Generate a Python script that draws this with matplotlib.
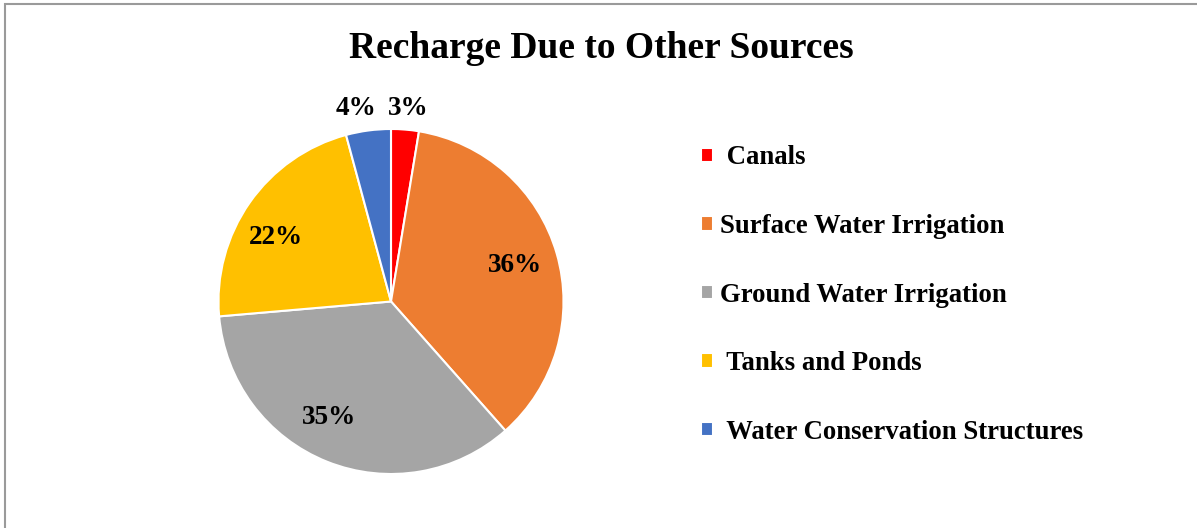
import numpy as np
import matplotlib
matplotlib.use('Agg')
import matplotlib.pyplot as plt
from matplotlib.patches import Rectangle

plt.rcParams['font.family'] = ['Liberation Serif', 'DejaVu Serif']
plt.rcParams['font.weight'] = 'bold'

# share of recharge from each source (%)
sources = [' Canals', 'Surface Water Irrigation', 'Ground Water Irrigation',
           ' Tanks and Ponds', ' Water Conservation Structures']
shares = [2.6, 35.9, 35.2, 22.2, 4.2]
colors = ['#FF0000', '#ED7D31', '#A5A5A5', '#FFC000', '#4472C4']

W, H = 1197, 528
fig = plt.figure(figsize=(W / 100, H / 100), dpi=100)

# pie centre and radius in pixels
cx, cy, r = 391, 301.5, 172.5
ax = fig.add_axes([(cx - r) / W, (H - cy - r) / H, 2 * r / W, 2 * r / H])

wedges, texts, pcts = ax.pie(shares, colors=colors, startangle=90, counterclock=False,
                             autopct='%.0f%%', pctdistance=0.75,
                             wedgeprops=dict(edgecolor='white', linewidth=1.5),
                             textprops=dict(fontsize=19.5, fontweight='bold', color='black'))
ax.set_xlim(-1, 1)
ax.set_ylim(-1, 1)
ax.set_aspect('equal')

# small slices get their labels above the pie
pcts[0].set_position((0.1, 1.12))
pcts[4].set_position((-0.2, 1.12))
# nudge the two left-hand labels
for i, ang in [(2, 242), (3, 151)]:
    a = np.radians(ang)
    pcts[i].set_position((0.76 * np.cos(a), 0.76 * np.sin(a)))

fig.text(0.502, 1 - 48 / H, 'Recharge Due to Other Sources', ha='center', va='center',
         fontsize=27, fontweight='bold')

ax.legend(wedges, sources, loc='center left', bbox_to_anchor=(701 / W, 1 - 295 / H),
          bbox_transform=fig.transFigure, frameon=False, fontsize=19.25,
          handlelength=0.45, handleheight=0.45, handletextpad=0.25,
          labelspacing=1.63, borderpad=0, borderaxespad=0)

fig.patches.append(Rectangle((5 / W, -0.1), 1.2, (H - 4.5) / H + 0.1, transform=fig.transFigure,
                             fill=False, edgecolor='#9a9a9a', linewidth=1.5))

fig.savefig('out.png', dpi=100)
